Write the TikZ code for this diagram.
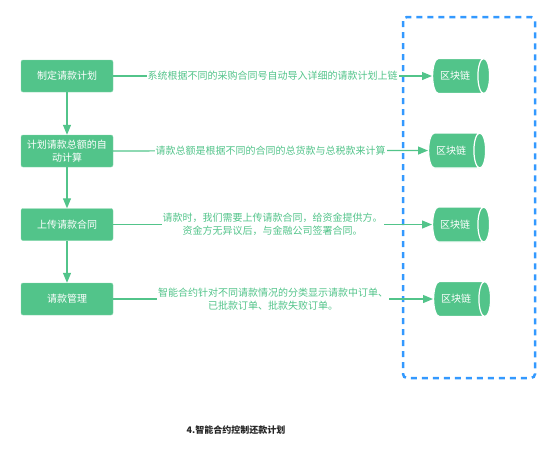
\documentclass[tikz,border=0pt]{standalone}
\usepackage{fontspec}
\newfontfamily\cjk{Noto Sans CJK SC}
\usetikzlibrary{shapes.geometric,arrows.meta}
\definecolor{flowgreen}{HTML}{52C48A}
\definecolor{chainblue}{HTML}{3399FF}
\tikzset{
  stepbox/.style={draw=flowgreen!70!white,fill=flowgreen,rounded corners=2pt,
    minimum width=92pt,minimum height=32pt,inner sep=1pt,align=center,
    text=white,font=\cjk\fontsize{10}{13}\selectfont},
  chain/.style={cylinder,shape border rotate=0,aspect=0.4,draw=white,line width=1.2pt,
    fill=flowgreen,minimum width=35pt,minimum height=57pt,inner ysep=10pt,inner xsep=1pt,
    text=white,font=\cjk\fontsize{10}{12}\selectfont,anchor=west},
  note/.style={fill=white,inner sep=1pt,align=center,text=flowgreen,
    font=\cjk\fontsize{10}{13}\selectfont},
  flow/.style={draw=flowgreen,line width=1.2pt,-{Triangle[length=10pt,width=8pt]}}
}
\begin{document}
\begin{tikzpicture}[x=1pt,y=-1pt]
    \useasboundingbox (0,0) rectangle (554,459);

    \draw[chainblue,line width=2.5pt,dash pattern=on 6pt off 5pt,rounded corners=4pt]
         (403,17) rectangle (535,378);

    \node[stepbox] (plan)   at (67,76)    {制定请款计划};
    \node[stepbox] (calc)   at (67,151)   {计划请款总额的自\\动计算};
    \node[stepbox] (upload) at (67,224.5) {上传请款合同};
    \node[stepbox] (manage) at (67,299)   {请款管理};

    \node[chain] (chain1) at (432,76)    {区块链};
    \node[chain] (chain2) at (428,150.5) {区块链};
    \node[chain] (chain3) at (432,224.5) {区块链};
    \node[chain] (chain4) at (433,299)   {区块链};

    \draw[flow] (plan) -- (calc);
    \draw[flow] (calc) -- (upload);
    \draw[flow] (upload) -- (manage);

    \draw[flow] (plan) -- node[note] {系统根据不同的采购合同号自动导入详细的请款计划上链} (chain1);
    \draw[flow] (calc) -- node[note] {请款总额是根据不同的合同的总货款与总税款来计算} (chain2);
    \draw[flow] (upload) -- node[note] {请款时，我们需要上传请款合同，给资金提供方。\\资金方无异议后，与金融公司签署合同。} (chain3);
    \draw[flow] (manage) -- node[note] {智能合约针对不同请款情况的分类显示请款中订单、\\已批款订单、批款失败订单。} (chain4);

    \node[font=\cjk\bfseries\fontsize{9}{11}\selectfont,text=black!85] (title) at (236,430)
         {4.智能合约控制还款计划};
\end{tikzpicture}
\end{document}
